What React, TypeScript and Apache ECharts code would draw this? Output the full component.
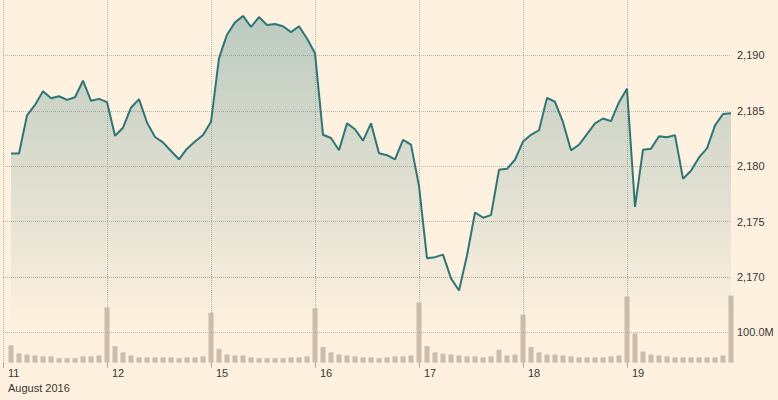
import React, { useEffect, useRef } from "react";
import * as echarts from "echarts";

const DAYS = ["11", "12", "15", "16", "17", "18", "19"];
const SLOTS = ["09:30", "10:00", "10:30", "11:00", "11:30", "12:00", "12:30", "13:00", "13:30", "14:00", "14:30", "15:00", "15:30"];
const CLOSE_SLOT = "19 16:00";
const MONTH_LABEL = "August 2016";

const PRICE: (number | null)[] = [
  null, 2181.15, 2181.15, 2184.59, 2185.53, 2186.76, 2186.14, 2186.32, 2185.99, 2186.23, 2187.72, 2185.91, 2186.08,
  2185.79, 2182.75, 2183.48, 2185.28, 2186.06, 2183.95, 2182.64, 2182.16, 2181.38, 2180.63, 2181.59, 2182.23, 2182.82,
  2184.01, 2189.76, 2191.87, 2192.98, 2193.56, 2192.57, 2193.46, 2192.74, 2192.83, 2192.63, 2192.10, 2192.63, 2191.52,
  2190.20, 2182.84, 2182.55, 2181.44, 2183.87, 2183.34, 2182.31, 2183.87, 2181.17, 2181.00, 2180.63, 2182.38, 2181.95,
  2178.22, 2171.71, 2171.80, 2172.03, 2169.89, 2168.79, 2171.95, 2175.83, 2175.36, 2175.59, 2179.68, 2179.77, 2180.59,
  2182.23, 2182.84, 2183.25, 2186.17, 2185.82, 2183.98, 2181.44, 2181.94, 2182.90, 2183.87, 2184.31, 2184.07, 2185.78,
  2186.99, 2176.33, 2181.50, 2181.59, 2182.71, 2182.62, 2182.81, 2178.88, 2179.60, 2180.80, 2181.61, 2183.69, 2184.72,
  2184.79,
];

// volume in millions
const VOLUME: (number | null)[] = [
  null, 58, 31, 27, 24, 21, 21, 15, 15, 15, 21, 21, 24,
  183, 55, 34, 24, 18, 18, 18, 18, 18, 15, 18, 18, 21,
  165, 46, 27, 24, 24, 18, 15, 15, 15, 15, 18, 18, 21,
  180, 52, 34, 27, 24, 21, 18, 18, 15, 18, 21, 21, 24,
  199, 55, 34, 30, 27, 24, 21, 21, 18, 21, 43, 24, 27,
  159, 52, 34, 27, 27, 24, 21, 18, 18, 18, 18, 21, 24,
  219, 97, 37, 27, 24, 21, 18, 18, 18, 18, 18, 18, 24,
  222,
];

const PRICE_TICKS = [2170, 2175, 2180, 2185, 2190];
const VOLUME_TICKS = [100];

const CATEGORIES: string[] = DAYS.flatMap((d) => SLOTS.map((t) => `${d} ${t}`)).concat([CLOSE_SLOT]);
const PER_DAY = SLOTS.length;

const BG = "#fff1e0";
const GRID_COLOR = "#bdb3a8";
const TEXT_COLOR = "#3a3632";
const FONT = "'Liberation Sans', Arial, sans-serif";

export default function App() {
  const ref = useRef<HTMLDivElement>(null);

  useEffect(() => {
    if (!ref.current) return;
    const chart = echarts.init(ref.current, null, { renderer: "svg" });
    const dayTick = (i: number) => i % PER_DAY === 0 && i < CATEGORIES.length - 1;
    const option: any = {
      animation: false,
      backgroundColor: BG,
      grid: [
        { left: 3, right: 47, top: -9.75, height: 342.3 },
        { left: 3, right: 47, top: -21.3, height: 384 },
      ],
      xAxis: [
        {
          type: "category",
          gridIndex: 0,
          data: CATEGORIES,
          boundaryGap: false,
          axisLine: { show: false },
          axisTick: { show: false },
          axisLabel: { show: false },
          splitLine: { show: false },
        },
        {
          type: "category",
          gridIndex: 1,
          data: CATEGORIES,
          boundaryGap: false,
          axisLine: { show: false },
          axisTick: {
            show: true,
            length: 5,
            interval: (i: number) => dayTick(i),
            lineStyle: { color: "#aaa39b", width: 1 },
          },
          axisLabel: {
            show: true,
            interval: (i: number) => dayTick(i),
            formatter: (v: string) => v.split(" ")[0],
            align: "left",
            padding: [0, 0, 0, 5],
            margin: 5,
            color: TEXT_COLOR,
            fontSize: 11,
            fontFamily: FONT,
          },
          splitLine: {
            show: true,
            interval: (i: number) => dayTick(i),
            lineStyle: { color: GRID_COLOR, type: "dotted", width: 1 },
          },
        },
      ],
      yAxis: [
        {
          type: "value",
          gridIndex: 0,
          position: "right",
          min: 2165,
          max: 2195,
          interval: 5,
          axisLine: { show: false },
          axisTick: { show: false },
          axisLabel: {
            margin: 6,
            color: TEXT_COLOR,
            fontSize: 11,
            fontFamily: FONT,
            formatter: (v: number) => (PRICE_TICKS.includes(v) ? v.toLocaleString("en-US") : ""),
          },
          splitLine: {
            show: true,
            showMinLine: false,
            showMaxLine: false,
            lineStyle: { color: GRID_COLOR, type: "dotted", width: 1 },
          },
        },
        {
          type: "value",
          gridIndex: 1,
          position: "right",
          min: 0,
          max: 1200,
          interval: 100,
          axisLine: { show: false },
          axisTick: { show: false },
          axisLabel: {
            margin: 6,
            color: TEXT_COLOR,
            fontSize: 11,
            fontFamily: FONT,
            formatter: (v: number) => (VOLUME_TICKS.includes(v) ? `${v.toFixed(1)}M` : ""),
          },
          splitLine: { show: false },
        },
      ],
      series: [
        {
          type: "bar",
          xAxisIndex: 1,
          yAxisIndex: 1,
          data: VOLUME,
          barWidth: 5,
          itemStyle: { color: "#cdbcab" },
          silent: true,
          markLine: {
            silent: true,
            symbol: ["none", "none"],
            label: { show: false },
            lineStyle: { color: GRID_COLOR, type: "dotted", width: 1 },
            data: VOLUME_TICKS.map((v) => ({ yAxis: v })),
          },
        },
        {
          type: "line",
          xAxisIndex: 0,
          yAxisIndex: 0,
          data: PRICE,
          showSymbol: false,
          connectNulls: false,
          lineStyle: { color: "#2b7778", width: 2 },
          areaStyle: {
            color: new echarts.graphic.LinearGradient(0, 0, 0, 1, [
              { offset: 0, color: "rgba(41,118,120,0.45)" },
              { offset: 1, color: "rgba(41,118,120,0)" },
            ]),
          },
          silent: true,
        },
      ],
      graphic: [
        {
          type: "text",
          left: 8,
          top: 382,
          style: { text: MONTH_LABEL, fill: TEXT_COLOR, fontSize: 11, fontFamily: FONT },
        },
      ],
    };
    chart.setOption(option);
    return () => chart.dispose();
  }, []);

  return (
    <div style={{ position: "absolute", left: 0, top: 0, width: 778, height: 400, background: BG }}>
      <div ref={ref} style={{ width: 778, height: 400 }} />
    </div>
  );
}
